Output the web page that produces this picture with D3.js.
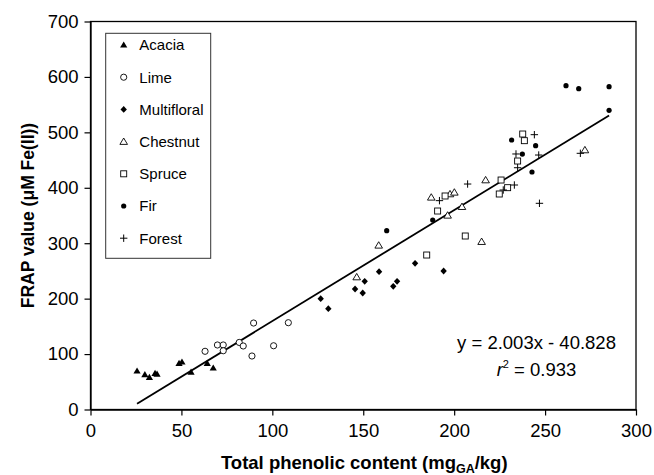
<!DOCTYPE html>
<html>
  <head>
    <meta charset="utf-8">
    <script src="https://d3js.org/d3.v7.min.js"></script>
    <style>
      body { margin: 0; background: #fff; }
      svg { display: block; font-family: Arial, "Liberation Sans", sans-serif; }
    </style>
  </head>
<body>
<script>
"use strict";

// honey types, in legend order
var types = ["Acacia", "Lime", "Multifloral", "Chestnut", "Spruce", "Fir", "Forest"];

// total phenolic content (x) and FRAP value (y)
var acaciaX = [25.6, 29.9, 32.4, 35.5, 36.6, 48.7, 50.3, 55.3, 64.2, 67.5];
var acaciaY = [69.5, 62.8, 58, 65.3, 64, 83.3, 85.7, 67.6, 83.3, 74.9];
var limeX = [63, 69.8, 73, 73, 81.8, 84, 88.8, 89.7, 100.7, 108.8];
var limeY = [105, 116.4, 116.4, 106, 121, 114.6, 96.5, 156, 115, 156.6];
var multifloralX = [126.6, 130.8, 145.5, 149.7, 150.8, 158.7, 166.5, 168.6, 178.5, 194.2];
var multifloralY = [199.9, 181.9, 217.4, 210.2, 231.3, 248.6, 222.2, 231.3, 263.7, 249.9];
var chestnutX = [146.4, 158.5, 187.4, 197.7, 200.1, 196.4, 204.3, 217.3, 215.1, 271.9];
var chestnutY = [239, 296.2, 382.8, 388.8, 391.8, 350.3, 365.9, 414, 302.8, 468.2];
var spruceX = [184.9, 206.1, 190.9, 195, 225.8, 229.4, 224.8, 234.9, 237.7, 238.6];
var spruceY = [278.7, 313, 358.1, 385.2, 414, 400.2, 388.8, 448.3, 497, 485];
var firX = [162.9, 188.2, 231.6, 244.8, 237.5, 242.8, 285.2, 261.5, 268.5, 285.2];
var firY = [322.6, 341.9, 486.2, 476, 460.9, 428.5, 539.7, 584.2, 578.8, 582.4];
var forestX = [191.9, 207.4, 227, 233.1, 244.1, 234, 234.9, 246.5, 246.9, 269.4];
var forestY = [376.8, 406.8, 396, 405, 495.8, 461, 436.2, 459.1, 372, 462.2];

var xTicks = [0, 50, 100, 150, 200, 250, 300];
var yTicks = [0, 100, 200, 300, 400, 500, 600, 700];

// linear fit shown on the chart
var slope = 2.003, intercept = -40.828, r2 = 0.933;

var width = 654, height = 475;
var plotLeft = 90.5, plotRight = 636, plotTop = 21.5, plotBottom = 409.5;

var xValues = [acaciaX, limeX, multifloralX, chestnutX, spruceX, firX, forestX];
var yValues = [acaciaY, limeY, multifloralY, chestnutY, spruceY, firY, forestY];

var svg = d3.select("body").append("svg")
    .attr("width", width)
    .attr("height", height);

var x = d3.scaleLinear().domain([0, 300]).range([plotLeft, plotRight]);
var y = d3.scaleLinear().domain([0, 700]).range([plotBottom, plotTop]);

// marker shapes, drawn at the origin
function marker(g, type) {
    if (type === "Acacia") {
        g.append("path").attr("d", "M0,-3.6L3.6,2.6L-3.6,2.6Z").attr("fill", "#000");
    } else if (type === "Lime") {
        g.append("circle").attr("r", 3.1).attr("fill", "#fff").attr("stroke", "#000").attr("stroke-width", 0.9);
    } else if (type === "Multifloral") {
        g.append("path").attr("d", "M0,-3.4L3.2,0L0,3.4L-3.2,0Z").attr("fill", "#000");
    } else if (type === "Chestnut") {
        g.append("path").attr("d", "M0,-3.6L3.8,2.8L-3.8,2.8Z").attr("fill", "#fff").attr("stroke", "#000").attr("stroke-width", 0.9);
    } else if (type === "Spruce") {
        g.append("rect").attr("x", -3).attr("y", -3).attr("width", 6).attr("height", 6)
            .attr("fill", "#fff").attr("stroke", "#000").attr("stroke-width", 0.9);
    } else if (type === "Fir") {
        g.append("circle").attr("r", 2.6).attr("fill", "#000");
    } else {
        g.append("path").attr("d", "M-3.7,0H3.7M0,-3.7V3.7").attr("stroke", "#000").attr("stroke-width", 1);
    }
}

// regression line over the data range
var allX = d3.merge(xValues);
var x0 = d3.min(allX), x1 = d3.max(allX);
svg.append("line")
    .attr("x1", x(x0)).attr("y1", y(slope * x0 + intercept))
    .attr("x2", x(x1)).attr("y2", y(slope * x1 + intercept))
    .attr("stroke", "#000")
    .attr("stroke-width", 1.8);

// points
types.forEach(function (t, i) {
    xValues[i].forEach(function (v, j) {
        var g = svg.append("g").attr("transform", "translate(" + x(v) + "," + y(yValues[i][j]) + ")");
        marker(g, t);
    });
});

// frame
svg.append("rect")
    .attr("x", plotLeft).attr("y", plotTop)
    .attr("width", plotRight - plotLeft).attr("height", plotBottom - plotTop)
    .attr("fill", "none")
    .attr("stroke", "#000")
    .attr("stroke-width", 1.3);

// axes
var xAxis = svg.append("g")
    .attr("transform", "translate(0," + plotBottom + ")")
    .call(d3.axisBottom(x).tickValues(xTicks).tickSize(6).tickPadding(8).tickSizeOuter(0));
var yAxis = svg.append("g")
    .attr("transform", "translate(" + plotLeft + ",0)")
    .call(d3.axisLeft(y).tickValues(yTicks).tickSize(6).tickPadding(6).tickSizeOuter(0));

[xAxis, yAxis].forEach(function (a) {
    a.select(".domain").attr("stroke-width", 1.3);
    a.selectAll(".tick line").attr("stroke-width", 1.2);
    a.selectAll("text")
        .attr("font-family", "Arial, 'Liberation Sans', sans-serif")
        .style("font-size", "18.5px")
        .attr("fill", "#000");
});

// axis titles
var xt = svg.append("text")
    .attr("x", (plotLeft + plotRight) / 2 + 1)
    .attr("y", 469)
    .attr("text-anchor", "middle")
    .style("font-size", "18.5px")
    .style("font-weight", "bold");
xt.append("tspan").text("Total phenolic content (mg");
xt.append("tspan").attr("dy", 4).style("font-size", "12.5px").text("GA");
xt.append("tspan").attr("dy", -4).text("/kg)");

svg.append("text")
    .attr("transform", "translate(34," + (plotTop + plotBottom) / 2 + ") rotate(-90)")
    .attr("text-anchor", "middle")
    .style("font-size", "17.5px")
    .style("font-weight", "bold")
    .text("FRAP value (\u03bcM Fe(II))");

// fit equation
svg.append("text")
    .attr("x", 536.5).attr("y", 348.5)
    .attr("text-anchor", "middle")
    .style("font-size", "18.5px")
    .text("y = " + slope.toFixed(3) + "x - " + Math.abs(intercept).toFixed(3));
var rt = svg.append("text")
    .attr("x", 536.5).attr("y", 375.5)
    .attr("text-anchor", "middle")
    .style("font-size", "18.5px");
rt.append("tspan").style("font-style", "italic").text("r");
rt.append("tspan").attr("dy", -8).style("font-size", "11px").text("2");
rt.append("tspan").attr("dy", 8).text(" = " + r2.toFixed(3));

// legend
var lg = svg.append("g");
lg.append("rect")
    .attr("x", 105.7).attr("y", 33.3)
    .attr("width", 105).attr("height", 225)
    .attr("fill", "#fff")
    .attr("stroke", "#333")
    .attr("stroke-width", 1);
types.forEach(function (t, i) {
    var cy = 45 + i * 32.2;
    marker(lg.append("g").attr("transform", "translate(123.7," + cy + ")"), t);
    lg.append("text")
        .attr("x", 139.3).attr("y", cy + 5.3)
        .style("font-size", "15px")
        .text(t);
});
</script>
</body>
</html>
